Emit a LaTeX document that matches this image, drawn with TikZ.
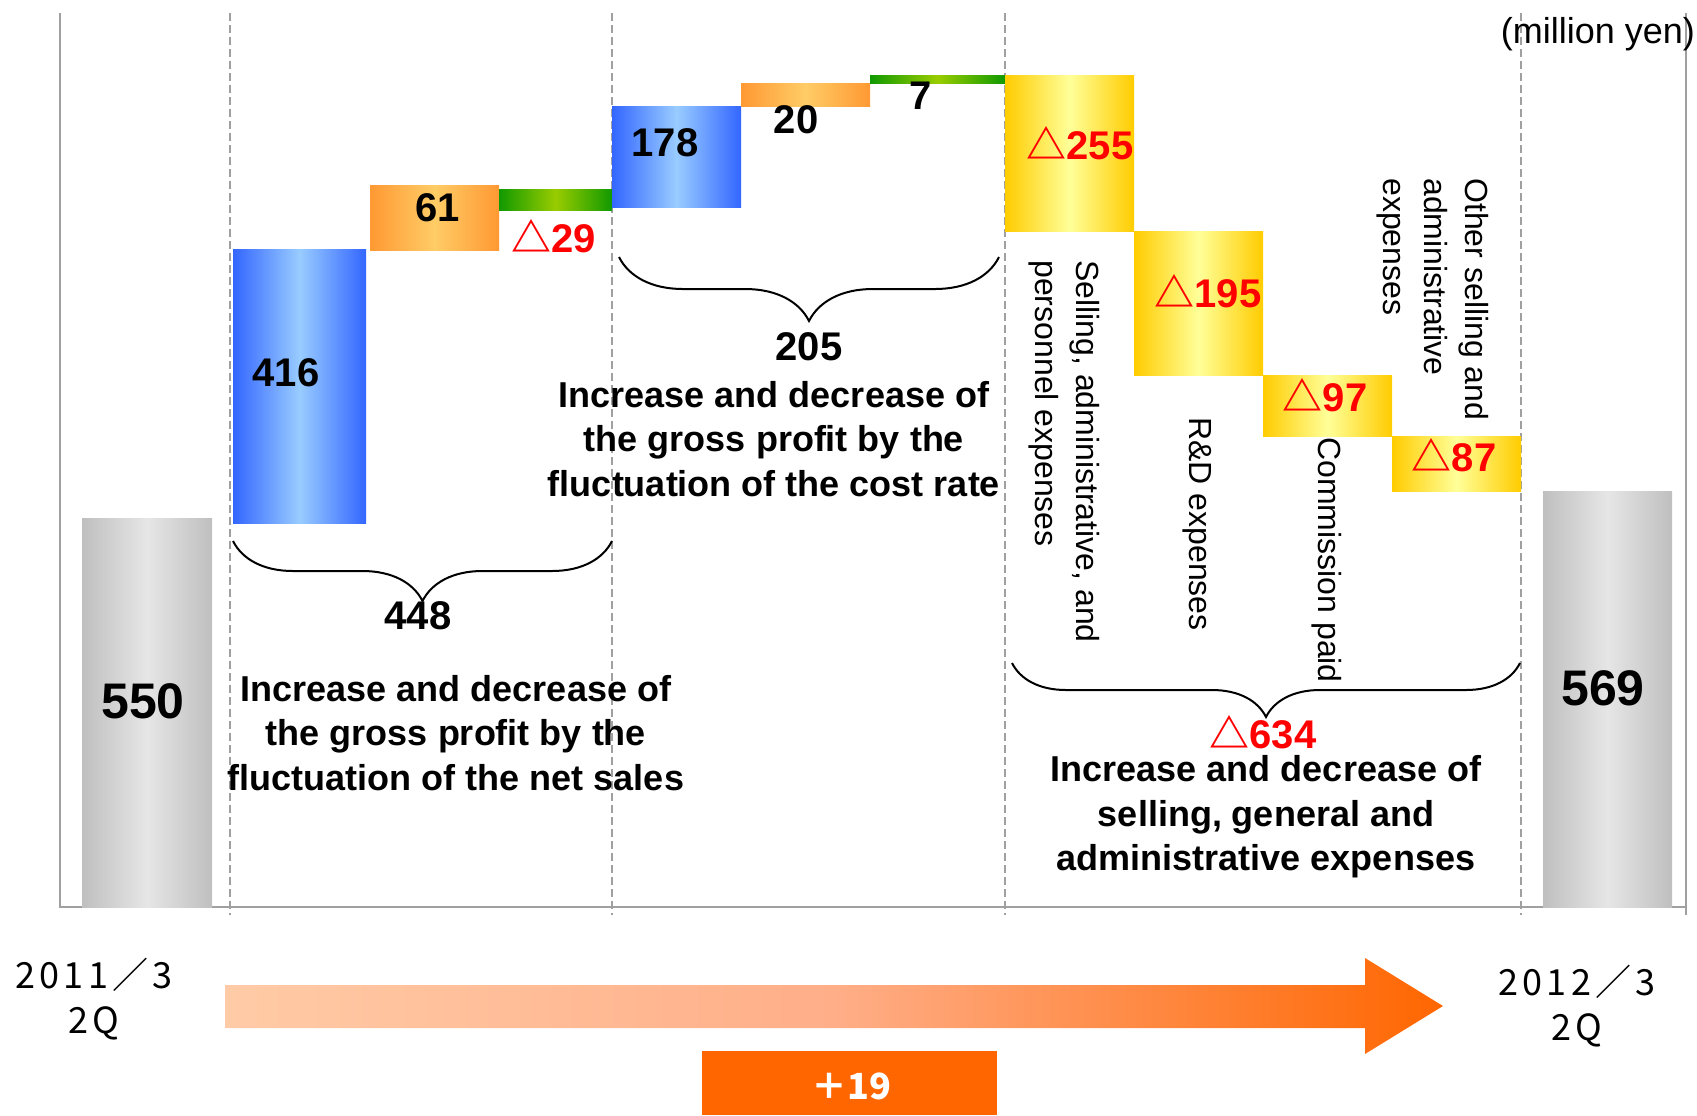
\documentclass[tikz,border=0pt]{standalone}
\usepackage{fontspec}
\setmainfont{Liberation Sans}
\newfontfamily\cjkfont{Noto Sans CJK JP}
\newfontfamily\datefont{Noto Sans CJK JP}[LetterSpace=12]
\usetikzlibrary{decorations.pathreplacing}

\definecolor{blueedge}{HTML}{3366FF}
\definecolor{bluemid}{HTML}{99CCFF}
\definecolor{orangeedge}{HTML}{FF9933}
\definecolor{orangemid}{HTML}{FFCC66}
\definecolor{greenedge}{HTML}{119900}
\definecolor{greenmid}{HTML}{99CC00}
\definecolor{yellowedge}{HTML}{FFCC00}
\definecolor{yellowmid}{HTML}{FFFF99}
\definecolor{grayedge}{HTML}{BFBFBF}
\definecolor{graymid}{HTML}{E6E6E6}
\definecolor{arrowlight}{HTML}{FFCBA6}
\definecolor{arrowmid}{HTML}{FFAE88}
\definecolor{arroworange}{HTML}{FF6600}
\definecolor{framegray}{HTML}{A0A0A0}

\newcommand{\decr}[1]{{\cjkfont △}#1}

\tikzset{
  guide/.style={framegray, line width=0.6pt, dash pattern=on 4pt off 2pt},
  frame/.style={framegray, line width=1pt},
  bluebar/.style={left color=blueedge, right color=blueedge, middle color=bluemid},
  orangebar/.style={left color=orangeedge, right color=orangeedge, middle color=orangemid},
  greenbar/.style={left color=greenedge, right color=greenedge, middle color=greenmid},
  yellowbar/.style={left color=yellowedge, right color=yellowedge, middle color=yellowmid},
  graybar/.style={left color=grayedge, right color=grayedge, middle color=graymid},
  num/.style={font=\bfseries\fontsize{20}{24}\selectfont, inner sep=0pt},
  negnum/.style={num, text=red},
  bignum/.style={font=\bfseries\fontsize{25}{30}\selectfont, inner sep=0pt},
  blocktext/.style={font=\bfseries\fontsize{18}{22.25}\selectfont, align=center, inner sep=0pt},
  sidetext/.style={font=\fontsize{16}{20.5}\selectfont, rotate=-90, align=left, anchor=north west, inner sep=0pt},
  datetext/.style={font=\datefont\fontsize{18}{22.5}\selectfont, align=center, inner sep=0pt},
  bracefig/.style={decorate, decoration={brace, mirror, amplitude=#1}, line width=1pt}
}

\begin{document}
\begin{tikzpicture}[x=0.5pt, y=-0.5pt]
  \useasboundingbox (0,0) rectangle (1697,1115);

  % dashed separators and frame
  \foreach \gx in {230,612,1005,1521}
    \draw[guide] (\gx,13) -- (\gx,915);
  \draw[frame] (60,13) -- (60,907) -- (1686,907);
  \draw[frame] (1686,13) -- (1686,915);

  % start and end values
  \shade[graybar] (82,518) rectangle (212,907);
  \shade[graybar] (1543,491) rectangle (1672,907);

  % net sales part
  \shade[bluebar] (233,249) rectangle (366,523);
  \shade[orangebar] (370,185) rectangle (499,250);
  \shade[greenbar] (499,189) rectangle (612,210);

  % cost rate part
  \shade[bluebar] (612,106) rectangle (741,207);
  \shade[orangebar] (741,83) rectangle (870,106);
  \shade[greenbar] (870,75) rectangle (1005,83);

  % selling, general and administrative expenses
  \shade[yellowbar] (1005,75) rectangle (1134,231);
  \shade[yellowbar] (1134,231) rectangle (1263,375);
  \shade[yellowbar] (1263,375) rectangle (1392,436);
  \shade[yellowbar] (1392,436) rectangle (1521,491);

  % bar values
  \node[bignum] (v550) at (143,701) {550};
  \node[bignum] (v569) at (1603,688) {569};
  \node[num] (v416) at (286,373) {416};
  \node[num] (v61) at (438,208) {61};
  \node[negnum] (v29) at (554,236) {\decr{29}};
  \node[num] (v178) at (665,143) {178};
  \node[num] (v20) at (796,120) {20};
  \node[num] (v7) at (921,96) {7};
  \node[negnum] (v255) at (1080,143) {\decr{255}};
  \node[negnum] (v195) at (1208,291) {\decr{195}};
  \node[negnum] (v97) at (1325,395) {\decr{97}};
  \node[negnum] (v87) at (1454,455) {\decr{87}};

  % braces with sums
  \coordinate (b448l) at (233,541);
  \coordinate (b448r) at (612,541);
  \coordinate (b205l) at (619,257);
  \coordinate (b205r) at (999,257);
  \coordinate (b634l) at (1012,663);
  \coordinate (b634r) at (1520,663);
  \draw[bracefig=30pt] (b448l) -- (b448r);
  \draw[bracefig=32pt] (b205l) -- (b205r);
  \draw[bracefig=27pt] (b634l) -- (b634r);
  \node[num] (s448) at (418,616) {448};
  \node[num] (s205) at (809,347) {205};
  \node[negnum] (s634) at (1263,732) {\decr{634}};

  % explanations
  \node[blocktext] (netsales) at (456,733) {Increase and decrease of\\the gross profit by the\\fluctuation of the net sales};
  \node[blocktext] (costrate) at (774,439) {Increase and decrease of\\the gross profit by the\\fluctuation of the cost rate};
  \node[blocktext] (sgaexp) at (1266,817) {Increase and decrease of\\selling, general and\\administrative expenses};

  % item names
  \node[sidetext] (sga) at (1100,260) {Selling, administrative, and\\personnel expenses};
  \node[sidetext] (rnd) at (1212,417) {R\&D expenses};
  \node[sidetext] (comm) at (1342,437) {Commission paid};
  \node[sidetext] (other) at (1489,178) {Other selling and\\administrative\\expenses};
  \node[font=\fontsize{18}{22}\selectfont, inner sep=0pt] (unit) at (1598,34) {(million yen)};

  % period arrow
  \shade[left color=arrowlight, right color=arroworange, middle color=arrowmid]
    (225,985) -- (1365,985) -- (1365,958) -- (1443,1006) -- (1365,1054) -- (1365,1028) -- (225,1028) -- cycle;
  \node[datetext] (from) at (94,999) {2011／3\\2Q};
  \node[datetext] (to) at (1577,1006) {2012／3\\2Q};
  \fill[arroworange] (702,1051) rectangle (997,1115);
  \node[font=\cjkfont\bfseries\fontsize{18}{22}\selectfont, text=white, inner sep=0pt] (total) at (851,1086) {＋19};
\end{tikzpicture}
\end{document}
